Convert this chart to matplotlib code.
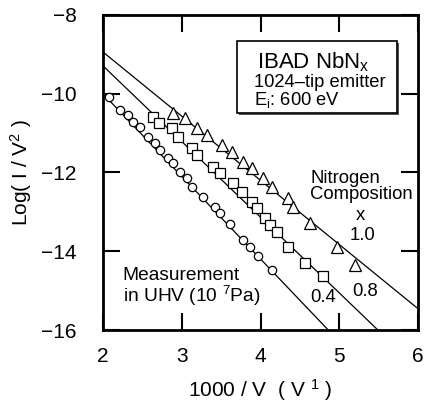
import matplotlib
matplotlib.use("Agg")
import matplotlib.pyplot as plt
from matplotlib.patches import Rectangle

plt.rcParams['font.family'] = ['Liberation Sans', 'DejaVu Sans']
plt.rcParams['mathtext.fontset'] = 'custom'
plt.rcParams['mathtext.rm'] = 'Liberation Sans'
plt.rcParams['mathtext.it'] = 'Liberation Sans'

# x = 1.0 (triangles)
tri_x = [2.89, 3.04, 3.19, 3.32, 3.51, 3.64, 3.78, 3.89, 4.03, 4.15, 4.35, 4.41, 4.63, 4.97, 5.20]
tri_y = [-10.49, -10.61, -10.87, -11.05, -11.30, -11.48, -11.73, -11.88, -12.14, -12.37,
         -12.64, -12.87, -13.28, -13.89, -14.35]
# x = 0.8 (squares)
sq_x = [2.63, 2.71, 2.88, 2.95, 3.13, 3.19, 3.40, 3.49, 3.65, 3.77, 3.89, 3.96, 4.06, 4.12,
        4.21, 4.35, 4.57, 4.79]
sq_y = [-10.59, -10.74, -10.87, -11.10, -11.38, -11.55, -11.86, -12.01, -12.26, -12.49,
        -12.75, -12.90, -13.15, -13.33, -13.51, -13.89, -14.29, -14.62]
# x = 0.4 (circles)
ci_x = [2.08, 2.22, 2.32, 2.38, 2.47, 2.57, 2.66, 2.72, 2.83, 2.89, 2.98, 3.07, 3.13, 3.27,
        3.42, 3.49, 3.61, 3.78, 3.87, 3.97, 4.15]
ci_y = [-10.08, -10.41, -10.54, -10.72, -10.84, -11.10, -11.25, -11.43, -11.63, -11.76,
        -11.98, -12.14, -12.37, -12.62, -12.87, -13.03, -13.30, -13.71, -13.89, -14.12, -14.47]

# fitted lines (end points)
fit10_x, fit10_y = [2.0, 6.0], [-8.94, -15.46]
fit08_x, fit08_y = [2.0, 5.49], [-9.29, -16.0]
fit04_x, fit04_y = [2.0, 4.86], [-10.0, -16.0]

fig = plt.figure(figsize=(4.36, 4.03), dpi=100)
ax = fig.add_axes([0.236, 0.181, 0.723, 0.782])

for fx, fy in [(fit10_x, fit10_y), (fit08_x, fit08_y), (fit04_x, fit04_y)]:
    ax.plot(fx, fy, color='black', lw=0.9)

ax.plot(tri_x, tri_y, '^', ms=8.5, mfc='white', mec='black', mew=0.9, ls='none')
ax.plot(sq_x, sq_y, 's', ms=7, mfc='white', mec='black', mew=0.9, ls='none')
ax.plot(ci_x, ci_y, 'o', ms=6, mfc='white', mec='black', mew=0.9, ls='none')

ax.set_xlim(2, 6)
ax.set_ylim(-16, -8)
ax.set_xticks([2, 3, 4, 5, 6])
ax.set_yticks([-16, -14, -12, -10, -8])
ax.tick_params(direction='in', length=12, width=1.5, labelsize=15,
               top=True, right=True)
ax.tick_params(axis='x', pad=12)
ax.tick_params(axis='y', pad=19)
for s in ax.spines.values():
    s.set_linewidth(2)

ax.set_xlabel('1000 / V  ( V $^1$ )', fontsize=15, labelpad=8)
ax.set_ylabel('Log( I / V$^2$ )', fontsize=15, labelpad=5)

# info box
shadow = Rectangle((3.73, -10.55), 2.03, 1.83, facecolor='#555555', edgecolor='none', zorder=4)
box = Rectangle((3.70, -10.49), 2.03, 1.83, facecolor='white', edgecolor='black', lw=1.2, zorder=5)
ax.add_patch(shadow)
ax.add_patch(box)
ax.text(3.96, -9.35, 'IBAD NbN$_\\mathregular{x}$', fontsize=16, zorder=6, va='baseline')
ax.text(3.92, -9.72, '1024–tip emitter', fontsize=13.2, zorder=6, va='center')
ax.text(3.92, -10.16, 'E$_\\mathregular{i}$: 600 eV', fontsize=13.2, zorder=6, va='center')

ax.text(4.63, -12.36, 'Nitrogen\nComposition', fontsize=13.3, va='center', ha='left',
        linespacing=0.95)
ax.text(5.27, -13.1, 'x', fontsize=13.3, ha='center', va='center')
ax.text(5.30, -13.59, '1.0', fontsize=13.3, ha='center', va='center')
ax.text(5.33, -15.03, '0.8', fontsize=13.3, ha='center', va='center')
ax.text(4.79, -15.18, '0.4', fontsize=13.3, ha='center', va='center')
ax.text(2.25, -14.92, 'Measurement\nin UHV (10 $^7$Pa)', fontsize=13.8, ha='left', va='center',
        linespacing=0.95)

fig.savefig('out.png', dpi=100)
